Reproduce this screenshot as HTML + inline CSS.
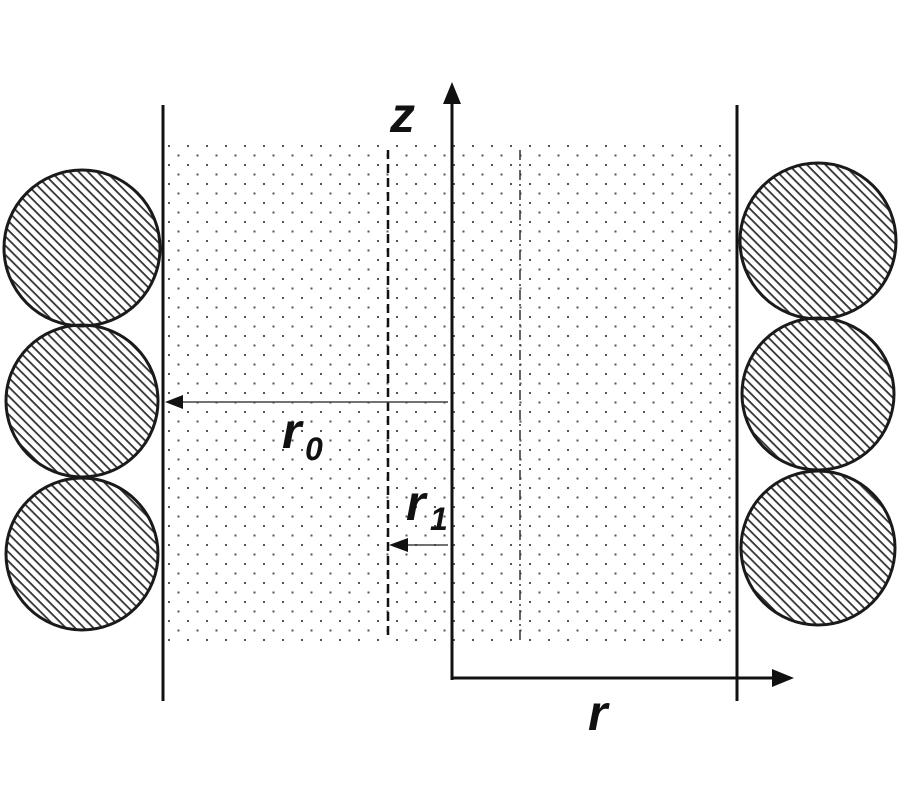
<!DOCTYPE html>
<html><head><meta charset="utf-8"><style>body{margin:0;background:#fff}svg{display:block}.t{font-family:"Liberation Sans",Arial,sans-serif;font-weight:bold;font-style:italic;fill:#111}</style></head><body>
<svg width="900" height="800" viewBox="0 0 900 800" xmlns="http://www.w3.org/2000/svg">
<defs>
<pattern id="dots" x="168" y="145" width="19" height="19" patternUnits="userSpaceOnUse">
<rect x="0" y="0" width="2" height="2" fill="#555"/>
<rect x="9.5" y="9.5" width="2" height="2" fill="#555"/>
</pattern>
<pattern id="hatch" width="6.5" height="6.5" patternUnits="userSpaceOnUse" patternTransform="rotate(45)">
<rect x="0" y="0" width="6.5" height="1.8" fill="#333"/>
</pattern>
</defs>
<rect x="168" y="145" width="564" height="497" fill="url(#dots)"/>
<g stroke="#1a1a1a" stroke-width="3" fill="url(#hatch)">
<circle cx="82" cy="248" r="78"/>
<circle cx="82" cy="401" r="76"/>
<circle cx="82" cy="554" r="76"/>
<circle cx="818" cy="241" r="78"/>
<circle cx="818" cy="394" r="76"/>
<circle cx="818" cy="548" r="77"/>
</g>
<g stroke="#111" stroke-width="3">
<line x1="163" y1="105" x2="163" y2="701"/>
<line x1="737" y1="105" x2="737" y2="701"/>
<line x1="452" y1="100" x2="452" y2="680"/>
<line x1="452" y1="678" x2="776" y2="678"/>
</g>
<polygon points="452,82 443,104 461,104" fill="#111"/>
<polygon points="794,678 772,669 772,687" fill="#111"/>
<line x1="388" y1="150" x2="388" y2="640" stroke="#111" stroke-width="2.5" stroke-dasharray="9,5"/>
<line x1="520" y1="150" x2="520" y2="640" stroke="#333" stroke-width="1.5" stroke-dasharray="10,4,2,4"/>
<line x1="180" y1="402" x2="448" y2="402" stroke="#444" stroke-width="1.5"/>
<polygon points="165,402 183,395 183,409" fill="#111"/>
<line x1="405" y1="545" x2="448" y2="545" stroke="#444" stroke-width="1.5"/>
<polygon points="389,545 408,538 408,552" fill="#111"/>
<text class="t" x="390" y="132" font-size="50">z</text>
<text class="t" x="282" y="448" font-size="50">r</text>
<text class="t" x="305" y="460" font-size="32">0</text>
<text class="t" x="406" y="520" font-size="50">r</text>
<text class="t" x="430" y="530" font-size="32">1</text>
<text class="t" x="588" y="730" font-size="50">r</text>
</svg>
</body></html>
